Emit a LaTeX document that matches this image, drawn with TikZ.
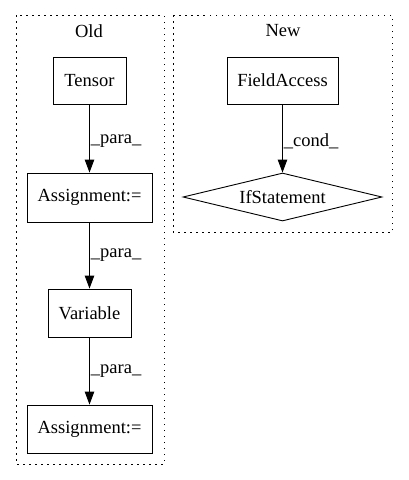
\documentclass[tikz,border=0pt]{standalone}
\usepackage{fontspec}
\setmainfont{Liberation Serif}
\usepackage{tikz}
\usetikzlibrary{arrows.meta}
\usetikzlibrary{shapes.geometric,positioning}

\begin{document}
\begin{tikzpicture}[
x=1pt,y=-1pt,
MyBoxes/.style={draw=black,line width=0.9pt,rectangle,inner sep=0pt,minimum height=47pt},
MyDiamonds/.style={draw=black,line width=0.9pt,diamond,inner sep=0pt,aspect=4,minimum width=199pt,minimum height=48pt},
MyClusters/.style={draw=black,line width=0.9pt,dash pattern=on 1.5pt off 4.5pt},
MyArrows/.style={-{Triangle[length=13pt, width=9.5pt]},line width=0.9pt},
EdgeLabels/.style={right,inner sep=1pt},
every node/.style={font=\fontsize{18.5}{22}\selectfont}
]
\useasboundingbox (0,0) rectangle (408,480);

% clusters
\draw[MyClusters] (16,15) rectangle (164,464);
\draw[MyClusters] (173,15) rectangle (392,232);
\node (old) at (89,31) {Old};
\node (new) at (283,31) {New};

% Old
\coordinate (T) at (89.5,80.5);
\coordinate (A) at (89.5,197.5);
\coordinate (V) at (89.5,313);
\coordinate (B) at (89.5,429);

\node[MyBoxes,minimum width=73pt] (tensor) at (T) {Tensor};
\node[MyBoxes,minimum width=125pt,minimum height=49pt] (assign1) at (A) {Assignment:=};
\node[MyBoxes,minimum width=83pt,minimum height=48pt] (variable) at (V) {Variable};
\node[MyBoxes,minimum width=125pt,minimum height=48pt] (assign2) at (B) {Assignment:=};

\draw[MyArrows] (tensor) -- (assign1) node[midway,EdgeLabels,yshift=-3pt]{\_para\_};
\draw[MyArrows] (assign1) -- (variable) node[midway,EdgeLabels]{\_para\_};
\draw[MyArrows] (variable) -- (assign2) node[midway,EdgeLabels]{\_para\_};

% New
\coordinate (F) at (282.5,80.5);
\coordinate (I) at (282.5,197);

\node[MyBoxes,minimum width=111pt] (field) at (F) {FieldAccess};
\node[MyDiamonds] (ifstmt) at (I) {IfStatement};

\draw[MyArrows] (field) -- (ifstmt) node[midway,EdgeLabels,yshift=-3pt]{\_cond\_};

\end{tikzpicture}
\end{document}
